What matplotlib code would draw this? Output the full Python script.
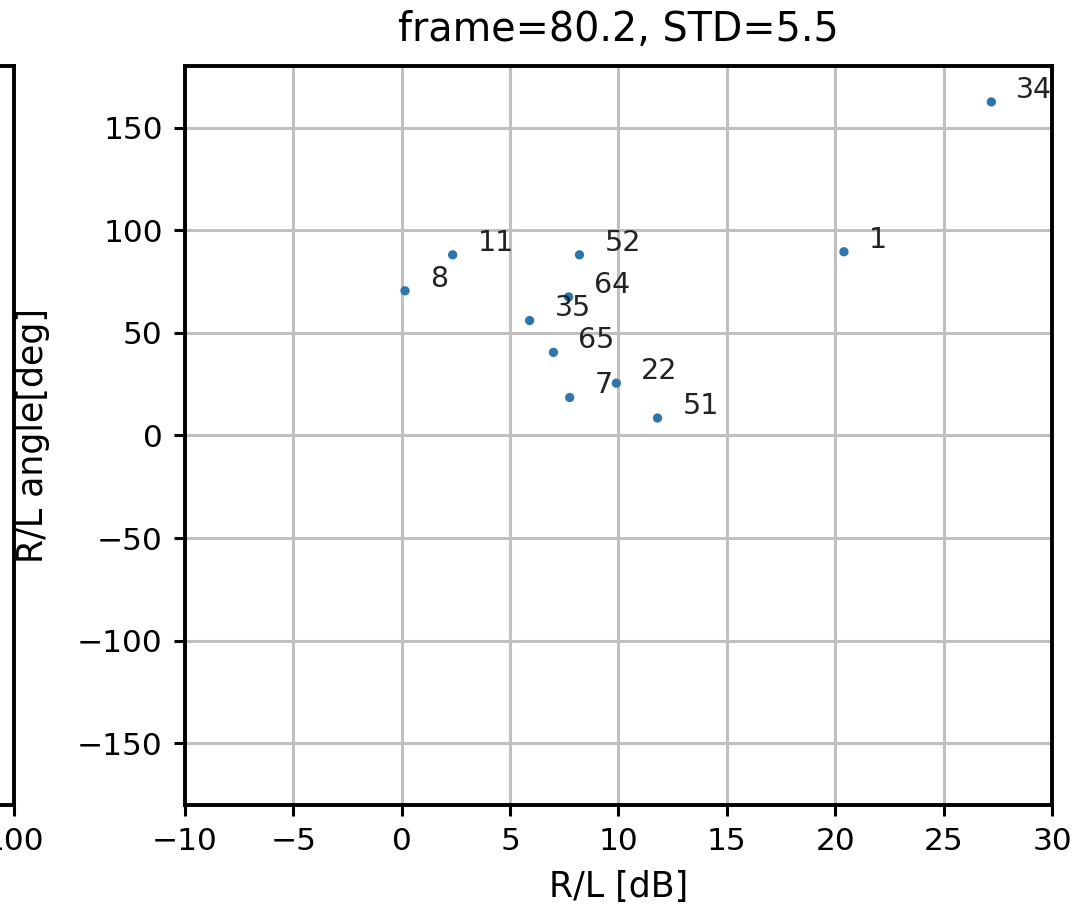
import numpy as np
import matplotlib
matplotlib.use("Agg")
import matplotlib.pyplot as plt

# R/L level and angle per channel
labels = ["8", "11", "52", "64", "35", "65", "7", "22", "51", "1", "34"]
rl_db = [0.15, 2.35, 8.2, 7.7, 5.9, 7.0, 7.75, 9.9, 11.8, 20.4, 27.2]
rl_deg = [70.5, 88, 88, 67.5, 56, 40.5, 18.5, 25.5, 8.5, 89.5, 162.5]

x_ticks = [-10, -5, 0, 5, 10, 15, 20, 25, 30]
y_ticks = [-150, -100, -50, 0, 50, 100, 150]

fs_tick = 22.5
fs_lab = 25
fs_title = 28.5
fs_ann = 20.5
plt.rcParams["font.family"] = "DejaVu Sans"

fig = plt.figure(figsize=(10.81, 9.14), dpi=100)

# neighbouring panel, almost entirely outside the crop
ax0 = fig.add_axes([-0.6, 0.1193, 0.6130, 0.8085])
ax0.set_xlim(0, 100)
ax0.set_xticks([100])
ax0.set_yticks([])
ax0.tick_params(axis="x", length=8, width=2.2, labelsize=fs_tick, pad=8)
for s in ax0.spines.values():
    s.set_linewidth(2.8)

ax = fig.add_axes([0.1711, 0.1193, 0.8021, 0.8085])
ax.scatter(rl_db, rl_deg, s=45, color="#2f75ab", edgecolors="none", zorder=3)
for lab, x, y in zip(labels, rl_db, rl_deg):
    ax.annotate(lab, (x, y), xytext=(18, 3), textcoords="offset points",
                fontsize=fs_ann, color="#222222")

ax.set_xlim(-10, 30)
ax.set_ylim(-180, 180)
ax.set_xticks(x_ticks)
ax.set_yticks(y_ticks)
ax.grid(True, color="#c0c0c0", linewidth=2.2)
ax.set_axisbelow(True)
ax.tick_params(length=8, width=2.2, labelsize=fs_tick, pad=8)
for s in ax.spines.values():
    s.set_linewidth(2.8)

ax.set_title("frame=80.2, STD=5.5", fontsize=fs_title, pad=18)
ax.set_xlabel("R/L [dB]", fontsize=fs_lab, labelpad=10)
ax.set_ylabel("R/L angle[deg]", fontsize=fs_lab)
ax.yaxis.set_label_coords(-0.156, 0.5)

fig.savefig("out.png", dpi=100)
